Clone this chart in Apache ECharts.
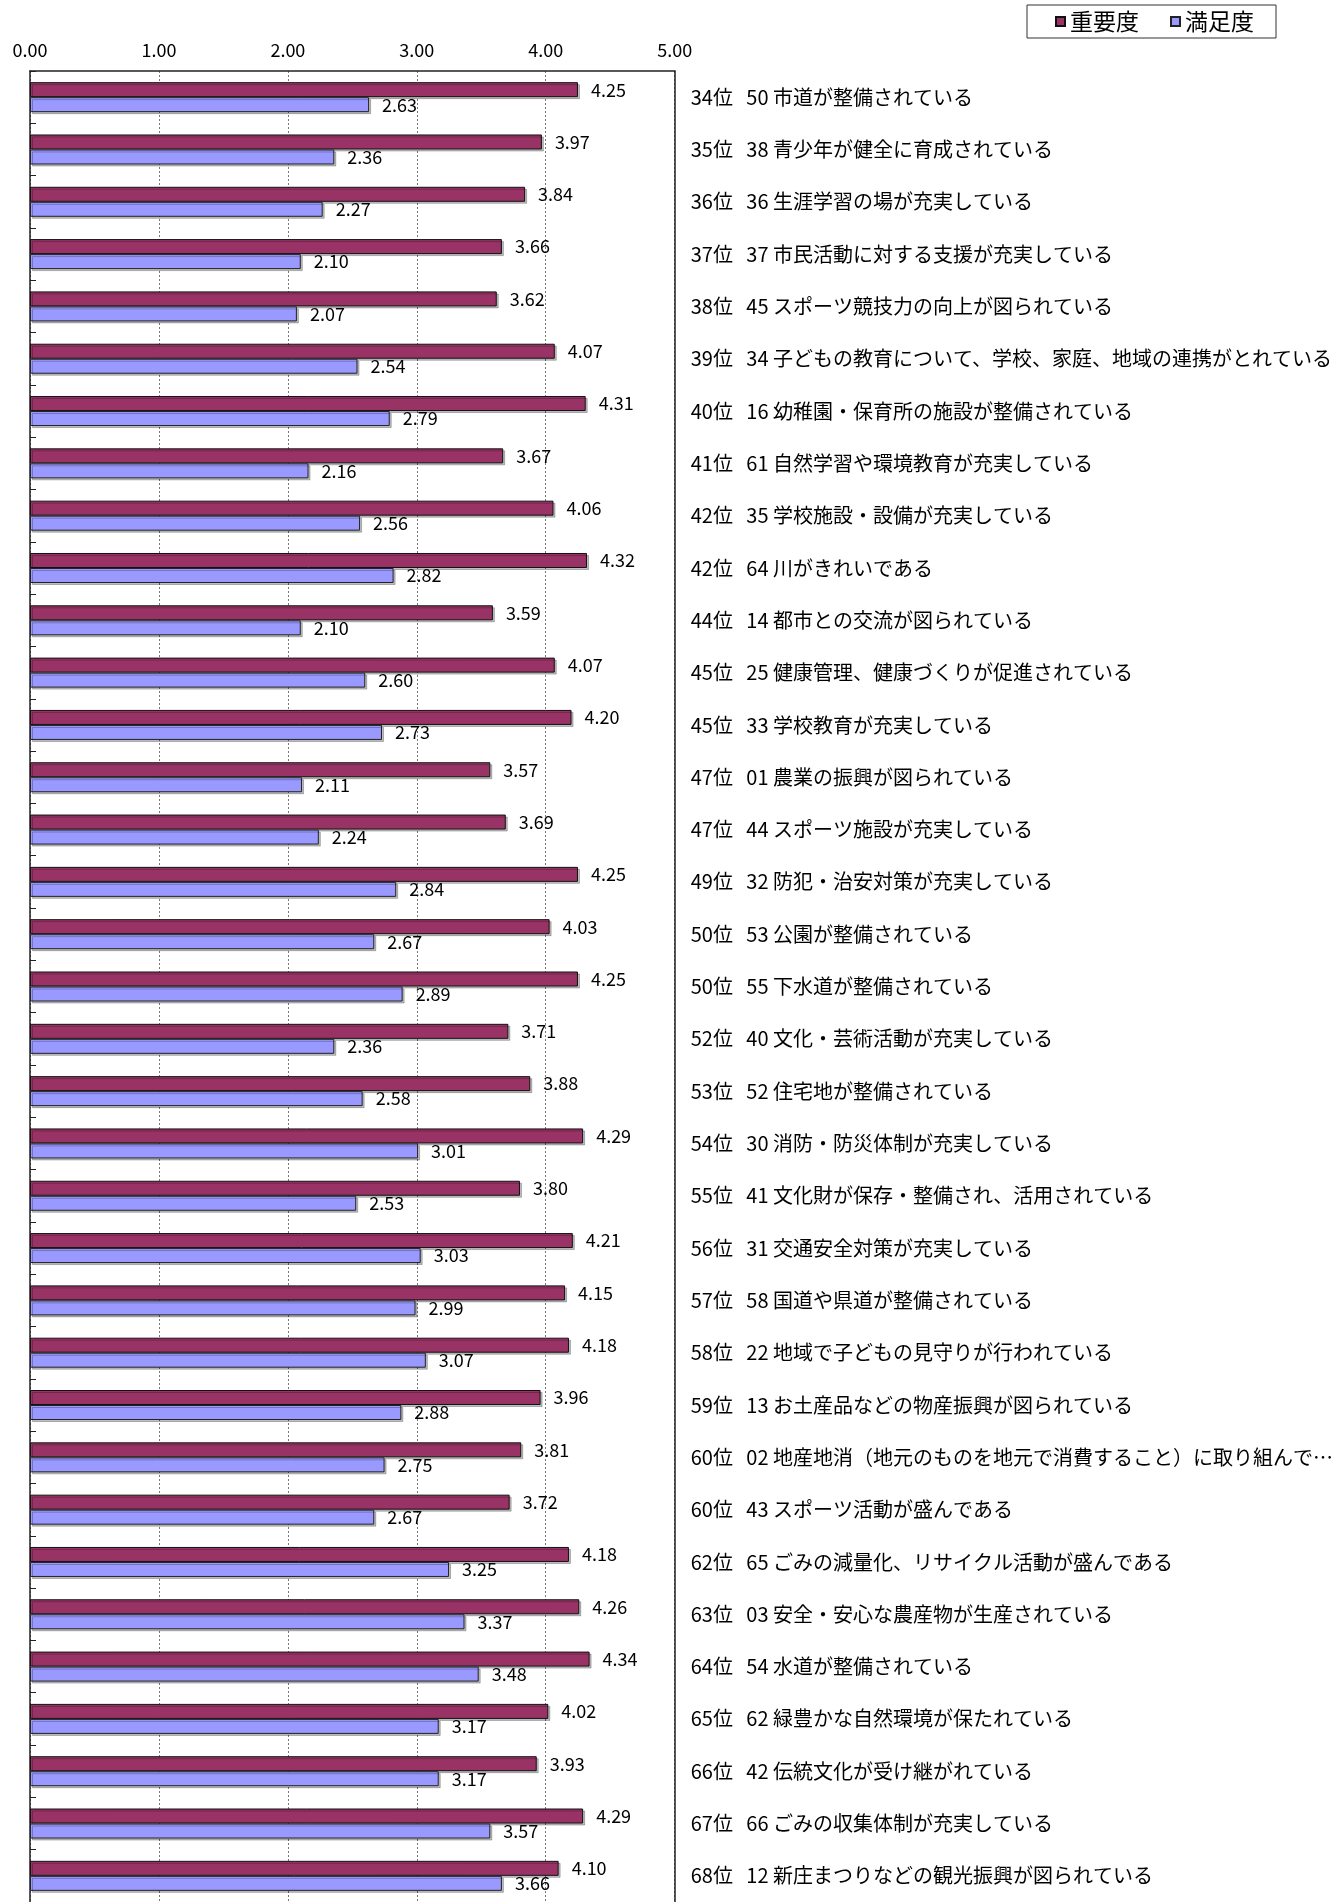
<!DOCTYPE html>
<html>
<head>
<meta charset="utf-8">
<script src="https://cdn.jsdelivr.net/npm/echarts@6/dist/echarts.min.js"></script>
<style>
html,body{margin:0;padding:0;background:#fff;}
#chart{width:1336px;height:1902px;}
</style>
</head>
<body>
<div id="chart"></div>
<script>
const categories = [
  "34位   50 市道が整備されている",
  "35位   38 青少年が健全に育成されている",
  "36位   36 生涯学習の場が充実している",
  "37位   37 市民活動に対する支援が充実している",
  "38位   45 スポーツ競技力の向上が図られている",
  "39位   34 子どもの教育について、学校、家庭、地域の連携がとれている",
  "40位   16 幼稚園・保育所の施設が整備されている",
  "41位   61 自然学習や環境教育が充実している",
  "42位   35 学校施設・設備が充実している",
  "42位   64 川がきれいである",
  "44位   14 都市との交流が図られている",
  "45位   25 健康管理、健康づくりが促進されている",
  "45位   33 学校教育が充実している",
  "47位   01 農業の振興が図られている",
  "47位   44 スポーツ施設が充実している",
  "49位   32 防犯・治安対策が充実している",
  "50位   53 公園が整備されている",
  "50位   55 下水道が整備されている",
  "52位   40 文化・芸術活動が充実している",
  "53位   52 住宅地が整備されている",
  "54位   30 消防・防災体制が充実している",
  "55位   41 文化財が保存・整備され、活用されている",
  "56位   31 交通安全対策が充実している",
  "57位   58 国道や県道が整備されている",
  "58位   22 地域で子どもの見守りが行われている",
  "59位   13 お土産品などの物産振興が図られている",
  "60位   02 地産地消（地元のものを地元で消費すること）に取り組んで…",
  "60位   43 スポーツ活動が盛んである",
  "62位   65 ごみの減量化、リサイクル活動が盛んである",
  "63位   03 安全・安心な農産物が生産されている",
  "64位   54 水道が整備されている",
  "65位   62 緑豊かな自然環境が保たれている",
  "66位   42 伝統文化が受け継がれている",
  "67位   66 ごみの収集体制が充実している",
  "68位   12 新庄まつりなどの観光振興が図られている"
];
const importance = [4.25,3.97,3.84,3.66,3.62,4.07,4.31,3.67,4.06,4.32,3.59,4.07,4.20,3.57,3.69,4.25,4.03,4.25,3.71,3.88,4.29,3.80,4.21,4.15,4.18,3.96,3.81,3.72,4.18,4.26,4.34,4.02,3.93,4.29,4.10];
const satisfaction = [2.63,2.36,2.27,2.10,2.07,2.54,2.79,2.16,2.56,2.82,2.10,2.60,2.73,2.11,2.24,2.84,2.67,2.89,2.36,2.58,3.01,2.53,3.03,2.99,3.07,2.88,2.75,2.67,3.25,3.37,3.48,3.17,3.17,3.57,3.66];
const seriesNames = ["重要度","満足度"];
const xTicks = [0,1,2,3,4,5];

const FONT = '"Noto Sans CJK JP", "Noto Sans", sans-serif';
const chart = echarts.init(document.getElementById('chart'), null, {renderer:'canvas'});

function barLabel(){
  return {
    show:true, position:'right', distance:13,
    fontFamily:FONT, fontSize:18, color:'#000',
    formatter: p => Number(p.value).toFixed(2)
  };
}

chart.setOption({
  animation:false,
  backgroundColor:'#fff',
  textStyle:{fontFamily:FONT},
  legend:{
    left:1027, top:5,
    padding:[5,22,5,28],
    itemGap:31, itemWidth:9, itemHeight:9,
    icon:'rect',
    borderColor:'#333', borderWidth:1,
    textStyle:{fontFamily:FONT, fontSize:23, color:'#000'},
    data:seriesNames
  },
  grid:{left:30, top:71, width:647, height:1837, containLabel:false},
  xAxis:{
    type:'value', position:'top', min:xTicks[0], max:xTicks[xTicks.length-1], interval:1,
    axisLine:{show:true, lineStyle:{color:'#222', width:1.5}},
    axisTick:{show:false},
    axisLabel:{fontFamily:FONT, fontSize:18, color:'#000', margin:12,
      formatter: v => Number(v).toFixed(2)},
    splitLine:{show:true, lineStyle:{color:'#777', width:1, type:[2,2]}}
  },
  yAxis:[
    {
      type:'category', data:categories, inverse:true, position:'left',
      axisLine:{show:true, lineStyle:{color:'#222', width:1.5}},
      axisTick:{show:true, inside:true, length:6, lineStyle:{color:'#222'}},
      axisLabel:{show:false},
      splitLine:{show:false}
    },
    {
      type:'category', data:categories, inverse:true, position:'right',
      axisLine:{show:true, lineStyle:{color:'#222', width:1.5}},
      axisTick:{show:false},
      axisLabel:{show:true, align:'left', margin:16, fontFamily:FONT, fontSize:20, color:'#000'},
      splitLine:{show:false}
    }
  ],
  series:[
    {
      name:seriesNames[0], type:'bar', yAxisIndex:0, data:importance,
      barWidth:15, barGap:'0%',
      itemStyle:{color:'#993366', borderColor:'#111', borderWidth:1,
        shadowColor:'rgba(0,0,0,0.25)', shadowOffsetX:2, shadowOffsetY:2, shadowBlur:0},
      label:barLabel()
    },
    {
      name:seriesNames[1], type:'bar', yAxisIndex:0, data:satisfaction,
      barWidth:15, barGap:'0%',
      itemStyle:{color:'#9999FF', borderColor:'#222', borderWidth:1,
        shadowColor:'rgba(0,0,0,0.25)', shadowOffsetX:2, shadowOffsetY:2, shadowBlur:0},
      label:barLabel()
    }
  ]
});
</script>
</body>
</html>
